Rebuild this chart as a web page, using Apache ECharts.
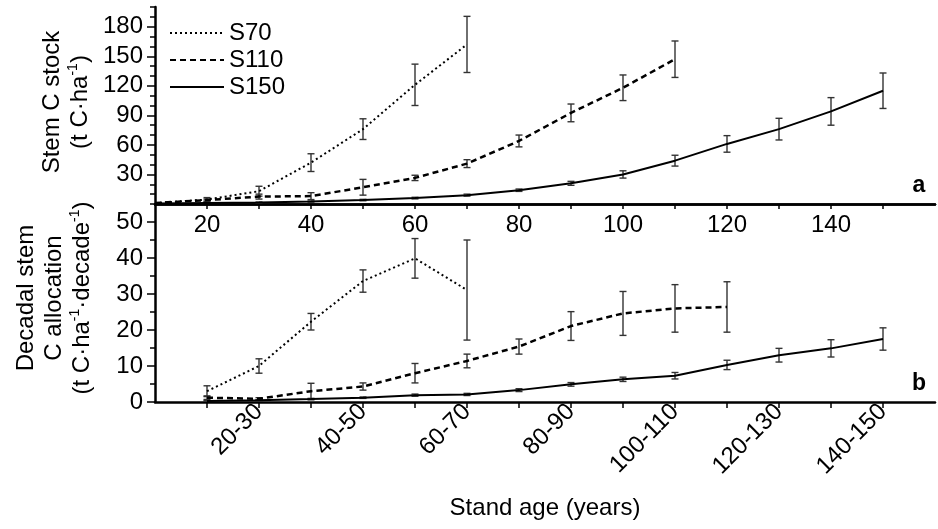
<!DOCTYPE html>
<html>
<head>
<meta charset="utf-8">
<script src="https://cdn.jsdelivr.net/npm/echarts@6/dist/echarts.min.js"></script>
<style>
html,body{margin:0;padding:0;background:#fff;}
#main{width:938px;height:529px;}
</style>
</head>
<body>
<div id="main"></div>
<script>
// panel a : stem C stock (t C/ha) by stand age
var stockAges = [10, 20, 30, 40, 50, 60, 70, 80, 90, 100, 110, 120, 130, 140, 150];
var stockS70 = [1, 4.5, 13, 42, 76, 121, 162];
var stockS70Err = [0, 2, 5, 9, 10.5, 21, 28.5];
var stockS110 = [1, 4, 7.5, 8, 17, 26.5, 41, 64, 92.5, 118, 147];
var stockS110Err = [0, 1, 2.5, 3.5, 8, 2.7, 4, 6, 9, 13, 18.5];
var stockS150 = [0.5, 1, 1.5, 2.5, 4, 6, 9, 14, 21, 30, 44, 61, 76, 94, 115];
var stockS150Err = [0, 0.3, 0.5, 0.5, 0.7, 0.8, 1, 1.2, 2, 3.7, 5.5, 8.4, 11, 14, 18];

// panel b : decadal stem C allocation, one value per decade
var decadeLabels = ['10-20', '20-30', '30-40', '40-50', '50-60', '60-70', '70-80',
    '80-90', '90-100', '100-110', '110-120', '120-130', '130-140', '140-150'];
var decadeAges = [20, 30, 40, 50, 60, 70, 80, 90, 100, 110, 120, 130, 140, 150];
var allocS70 = [3, 10, 22.3, 33.6, 39.9, 31.1];
var allocS70Err = [1.5, 2, 2.3, 3.1, 5.5, 13.9];
var allocS110 = [1.2, 0.9, 3, 4.3, 8, 11.4, 15.4, 21.1, 24.6, 26, 26.4];
var allocS110Err = [0.5, 0.3, 2.2, 1, 2.7, 1.9, 2.1, 4, 6.1, 6.6, 7];
var allocS150 = [0.3, 0.5, 0.8, 1.2, 1.9, 2.1, 3.3, 4.9, 6.3, 7.3, 10.3, 13, 14.9, 17.5];
var allocS150Err = [0.1, 0.1, 0.2, 0.2, 0.3, 0.3, 0.4, 0.5, 0.6, 0.9, 1.3, 1.9, 2.4, 3.1];

// tick labels
var ageTickLabels = [20, 40, 60, 80, 100, 120, 140];
var stockTicks = [30, 60, 90, 120, 150, 180];
var allocTicks = [0, 10, 20, 30, 40, 50];

var FONT = "'Liberation Sans', Arial, sans-serif";
var styles = {
    S70: {type: [2, 3], width: 2},
    S110: {type: [6, 4], width: 2.5},
    S150: {type: 'solid', width: 2}
};

function pairs(xs, ys) {
    return ys.map(function (v, i) { return [xs[i], v]; });
}

function lineSeries(name, xs, ys, idx) {
    return {
        type: 'line', name: name, xAxisIndex: idx * 2, yAxisIndex: idx * 2,
        data: pairs(xs, ys), symbol: 'none', z: 4,
        itemStyle: {color: '#000'},
        lineStyle: {color: '#000', width: styles[name].width, type: styles[name].type}
    };
}

function errSeries(name, xs, ys, es, idx) {
    var d = [];
    ys.forEach(function (v, i) {
        if (es[i] > 0) d.push([xs[i], v - es[i], v + es[i]]);
    });
    return {
        type: 'custom', name: name + ' err', xAxisIndex: idx * 2, yAxisIndex: idx * 2,
        silent: true, z: 3, data: d,
        renderItem: function (params, api) {
            var lo = api.coord([api.value(0), api.value(1)]);
            var hi = api.coord([api.value(0), api.value(2)]);
            var w = 3.5;
            var st = {stroke: '#333', lineWidth: 1.4};
            return {
                type: 'group', children: [
                    {type: 'line', shape: {x1: lo[0], y1: lo[1], x2: hi[0], y2: hi[1]}, style: st},
                    {type: 'line', shape: {x1: lo[0] - w, y1: lo[1], x2: lo[0] + w, y2: lo[1]}, style: st},
                    {type: 'line', shape: {x1: hi[0] - w, y1: hi[1], x2: hi[0] + w, y2: hi[1]}, style: st}
                ]
            };
        }
    };
}

var axisLine = {show: true, lineStyle: {color: '#000', width: 2.5}};
var tickStyle = {color: '#000', width: 1.5};
var labelStyle = {color: '#000', fontSize: 24, fontFamily: FONT};

var myChart = echarts.init(document.getElementById('main'));
myChart.setOption({
    animation: false,
    backgroundColor: '#fff',
    grid: [
        {left: 155, top: 7, width: 780, height: 197},
        {left: 155, top: 204, width: 780, height: 198}
    ],
    legend: {
        data: ['S70', 'S110', 'S150'], orient: 'vertical', left: 164, top: 16,
        itemWidth: 54, itemHeight: 14, itemGap: 3,
        itemStyle: {opacity: 0},
        textStyle: {color: '#000', fontSize: 24, fontFamily: FONT}
    },
    xAxis: [
        {
            gridIndex: 0, type: 'value', min: 10, max: 160, position: 'bottom',
            axisLine: axisLine, splitLine: {show: false},
            axisTick: {customValues: decadeAges, length: 5, lineStyle: tickStyle},
            axisLabel: Object.assign({customValues: ageTickLabels, margin: 9}, labelStyle)
        },
        {
            gridIndex: 0, type: 'value', min: 10, max: 160, position: 'top',
            axisLine: axisLine, axisTick: {show: false}, axisLabel: {show: false}, splitLine: {show: false}
        },
        {
            gridIndex: 1, type: 'value', min: 10, max: 160, position: 'bottom',
            axisLine: axisLine, splitLine: {show: false},
            axisTick: {customValues: decadeAges, length: 6, lineStyle: tickStyle},
            axisLabel: Object.assign({
                customValues: decadeAges.filter(function (a, i) { return i % 2 === 1; }),
                rotate: 45, margin: 6,
                formatter: function (v) { return decadeLabels[decadeAges.indexOf(v)]; }
            }, labelStyle),
            name: 'Stand age (years)', nameLocation: 'middle', nameGap: 94,
            nameTextStyle: {color: '#000', fontSize: 24, fontFamily: FONT}
        },
        {
            gridIndex: 1, type: 'value', min: 10, max: 160, position: 'top',
            axisLine: {show: false}, axisTick: {show: false}, axisLabel: {show: false}, splitLine: {show: false}
        }
    ],
    yAxis: [
        {
            gridIndex: 0, type: 'value', min: 0, max: 200, interval: 30, position: 'left',
            axisLine: axisLine, splitLine: {show: false},
            axisTick: {customValues: stockTicks, length: 8, lineStyle: tickStyle},
            axisLabel: Object.assign({customValues: stockTicks, margin: 12}, labelStyle)
        },
        {
            gridIndex: 0, type: 'value', min: 0, max: 200, interval: 10, position: 'left',
            axisLine: {show: false}, splitLine: {show: false}, axisLabel: {show: false},
            axisTick: {length: 5, lineStyle: tickStyle}
        },
        {
            gridIndex: 1, type: 'value', min: 0, max: 55, interval: 10, position: 'left',
            axisLine: axisLine, splitLine: {show: false},
            axisTick: {customValues: allocTicks, length: 8, lineStyle: tickStyle},
            axisLabel: Object.assign({customValues: allocTicks, margin: 12}, labelStyle)
        },
        {
            gridIndex: 1, type: 'value', min: 0, max: 55, interval: 5, position: 'left',
            axisLine: {show: false}, splitLine: {show: false}, axisLabel: {show: false},
            axisTick: {length: 5, lineStyle: tickStyle}
        }
    ],
    graphic: [
        {
            type: 'text', x: 66, y: 102, rotation: Math.PI / 2,
            style: {
                text: 'Stem C stock\n(t C·ha{sup|-1})', fill: '#000', fontSize: 24, fontFamily: FONT,
                lineHeight: 28, align: 'center', verticalAlign: 'middle',
                rich: {sup: {fontSize: 14, verticalAlign: 'top', lineHeight: 28, fontFamily: FONT}}
            }
        },
        {
            type: 'text', x: 54, y: 298, rotation: Math.PI / 2,
            style: {
                text: 'Decadal stem\nC allocation\n(t C·ha{sup|-1}·decade{sup|-1})', fill: '#000',
                fontSize: 24, fontFamily: FONT, lineHeight: 28, align: 'center', verticalAlign: 'middle',
                rich: {sup: {fontSize: 14, verticalAlign: 'top', lineHeight: 28, fontFamily: FONT}}
            }
        },
        {type: 'text', x: 919, y: 186, style: {text: 'a', fill: '#000', font: 'bold 23px ' + FONT, align: 'center', verticalAlign: 'middle'}},
        {type: 'text', x: 919, y: 384, style: {text: 'b', fill: '#000', font: 'bold 23px ' + FONT, align: 'center', verticalAlign: 'middle'}}
    ],
    series: [
        lineSeries('S70', stockAges, stockS70, 0),
        lineSeries('S110', stockAges, stockS110, 0),
        lineSeries('S150', stockAges, stockS150, 0),
        errSeries('S70', stockAges, stockS70, stockS70Err, 0),
        errSeries('S110', stockAges, stockS110, stockS110Err, 0),
        errSeries('S150', stockAges, stockS150, stockS150Err, 0),
        lineSeries('S70', decadeAges, allocS70, 1),
        lineSeries('S110', decadeAges, allocS110, 1),
        lineSeries('S150', decadeAges, allocS150, 1),
        errSeries('S70', decadeAges, allocS70, allocS70Err, 1),
        errSeries('S110', decadeAges, allocS110, allocS110Err, 1),
        errSeries('S150', decadeAges, allocS150, allocS150Err, 1)
    ]
});
</script>
</body>
</html>
